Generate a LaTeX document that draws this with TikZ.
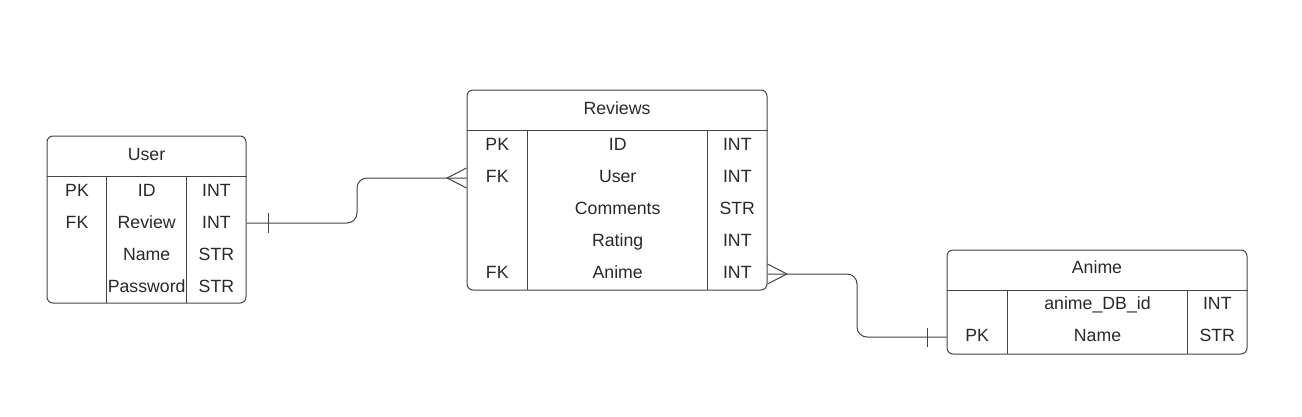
\documentclass[tikz,border=0pt]{standalone}
\usepackage{fontspec}
\setmainfont{Liberation Sans}
\definecolor{lc}{RGB}{68,68,68}
\definecolor{tc}{RGB}{40,40,40}
\begin{document}
\begin{tikzpicture}[x=1pt,y=-1pt,
  tbl/.style={draw=lc, line width=1pt, rounded corners=6pt, inner sep=0pt},
  sep/.style={draw=lc, line width=1pt},
  cell/.style={text=tc, font=\fontsize{17.7}{20}\selectfont, inner sep=0pt, anchor=base},
  conn/.style={draw=lc, line width=1pt, rounded corners=10pt},
  endmark/.style={draw=lc, line width=1pt}]
\useasboundingbox (0,0) rectangle (1302,416);

% ---------- User ----------
\node[tbl, minimum width=199pt, minimum height=167pt] (user) at (146.5,219.5) {};
\draw[sep] (user.west |- 0,176) -- (user.east |- 0,176);
\draw[sep] (106.7,176) -- (106.7,303);
\draw[sep] (186.7,176) -- (186.7,303);
\node[cell] (userH) at (146.5,160) {User};
\node[cell] (u1k) at (77,196) {PK};
\node[cell] (u1n) at (146.7,196) {ID};
\node[cell] (u1t) at (216.4,196) {INT};
\node[cell] (u2k) at (77,228) {FK};
\node[cell] (u2n) at (146.7,228) {Review};
\node[cell] (u2t) at (216.4,228) {INT};
\node[cell] (u3n) at (146.7,260) {Name};
\node[cell] (u3t) at (216.4,260) {STR};
\node[cell] (u4n) at (146.7,292) {Password};
\node[cell] (u4t) at (216.4,292) {STR};

% ---------- Reviews ----------
\node[tbl, minimum width=300pt, minimum height=200pt] (rev) at (617,190) {};
\draw[sep] (rev.west |- 0,130) -- (rev.east |- 0,130);
\draw[sep] (527.7,130) -- (527.7,290);
\draw[sep] (707.7,130) -- (707.7,290);
\node[cell] (revH) at (617,114) {Reviews};
\node[cell] (r1k) at (497.3,150) {PK};
\node[cell] (r1n) at (617.7,150) {ID};
\node[cell] (r1t) at (737.3,150) {INT};
\node[cell] (r2k) at (497.3,182) {FK};
\node[cell] (r2n) at (617.7,182) {User};
\node[cell] (r2t) at (737.3,182) {INT};
\node[cell] (r3n) at (617.7,214) {Comments};
\node[cell] (r3t) at (737.3,214) {STR};
\node[cell] (r4n) at (617.7,246) {Rating};
\node[cell] (r4t) at (737.3,246) {INT};
\node[cell] (r5k) at (497.3,278) {FK};
\node[cell] (r5n) at (617.7,278) {Anime};
\node[cell] (r5t) at (737.3,278) {INT};

% ---------- Anime ----------
\node[tbl, minimum width=300pt, minimum height=104pt] (anime) at (1097,302) {};
\draw[sep] (anime.west |- 0,290) -- (anime.east |- 0,290);
\draw[sep] (1007.3,290) -- (1007.3,354);
\draw[sep] (1187.7,290) -- (1187.7,354);
\node[cell] (animeH) at (1097,273) {Anime};
\node[cell] (a1n) at (1097.5,309) {anime\_DB\_id};
\node[cell] (a1t) at (1217.3,309) {INT};
\node[cell] (a2k) at (977.2,341) {PK};
\node[cell] (a2n) at (1097.5,341) {Name};
\node[cell] (a2t) at (1217.3,341) {STR};

% ---------- User -- Reviews ----------
\draw[conn] (user.east |- 0,223) -- (357,223) -- (357,178) -- (rev.west |- 0,178);
\draw[endmark] (268,213) -- (268,233);
\draw[endmark] (rev.west |- 0,168) -- (447,178) -- (rev.west |- 0,188);

% ---------- Reviews -- Anime ----------
\draw[conn] (rev.east |- 0,274) -- (857,274) -- (857,337) -- (anime.west |- 0,337);
\draw[endmark] (rev.east |- 0,264) -- (787,274) -- (rev.east |- 0,284);
\draw[endmark] (927,328) -- (927,347);
\end{tikzpicture}
\end{document}
